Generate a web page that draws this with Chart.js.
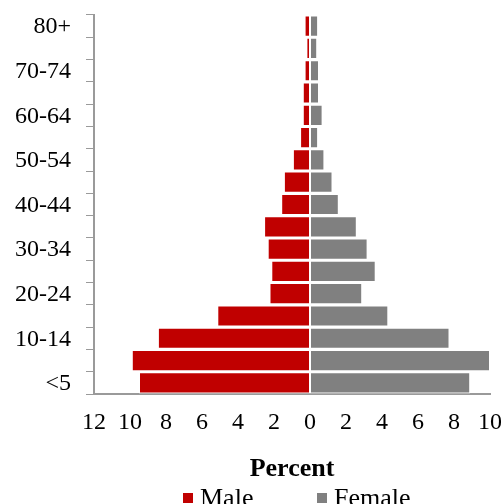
<!DOCTYPE html>
<html>
<head>
<meta charset="utf-8">
<script src="https://cdn.jsdelivr.net/npm/chart.js@4.4.1/dist/chart.umd.min.js"></script>
<style>
  html, body { margin: 0; padding: 0; background: #fff; width: 501px; height: 504px; overflow: hidden; }
  #wrap { position: relative; width: 503px; height: 504px; }
  #pyramid { position: absolute; left: 0; top: 0; }
  .lg-box { position: absolute; width: 10px; height: 10px; }
  .lg-text { position: absolute; font: 26px "Liberation Serif", serif; line-height: 26px; color: #000; white-space: nowrap; }
</style>
</head>
<body>
<div id="wrap">
  <canvas id="pyramid" width="503" height="504"></canvas>
  <div id="legend"></div>
</div>
<script>
const FONT = '"Liberation Serif", serif';
const AXIS_GREY = "#9a9a9a";

// age groups, bottom to top
const ageGroups = ["<5", "5-9", "10-14", "15-19", "20-24", "25-29", "30-34", "35-39", "40-44",
  "45-49", "50-54", "55-59", "60-64", "65-69", "70-74", "75-79", "80+"];
// only every other group gets a label on the axis
const yTickLabels = ["<5", "10-14", "20-24", "30-34", "40-44", "50-54", "60-64", "70-74", "80+"];

// percent of population (male drawn to the left, so negative)
const maleShare = [-9.5, -9.9, -8.45, -5.15, -2.25, -2.15, -2.35, -2.55, -1.6,
  -1.45, -0.95, -0.55, -0.4, -0.4, -0.3, -0.2, -0.3];
const femaleShare = [8.9, 10.0, 7.75, 4.35, 2.9, 3.65, 3.2, 2.6, 1.6,
  1.25, 0.8, 0.45, 0.7, 0.5, 0.5, 0.4, 0.45];

const seriesNames = ["Male", "Female"];
const seriesColors = ["#c00000", "#808080"];

const barStyle = {
  borderColor: "#ffffff",
  borderWidth: 1,
  borderSkipped: false,
  barPercentage: 0.95,
  categoryPercentage: 1.0,
};

const chart = new Chart(document.getElementById("pyramid"), {
  type: "bar",
  data: {
    labels: ageGroups,
    datasets: [
      { ...barStyle, label: seriesNames[0], data: maleShare, backgroundColor: seriesColors[0] },
      { ...barStyle, label: seriesNames[1], data: femaleShare, backgroundColor: seriesColors[1] },
    ],
  },
  options: {
    indexAxis: "y",
    responsive: false,
    animation: false,
    layout: { padding: { top: 15, bottom: 19.4, left: 0, right: 0 } },
    plugins: { legend: { display: false }, tooltip: { enabled: false } },
    scales: {
      x: {
        stacked: true,
        min: -12,
        max: 10,
        ticks: {
          stepSize: 2,
          autoSkip: false,
          maxRotation: 0,
          padding: 14.6,
          color: "#000",
          font: { family: FONT, size: 24 },
          callback: (v) => Math.abs(v),
        },
        grid: { display: false, drawTicks: false },
        border: { display: true, color: AXIS_GREY, width: 2 },
        title: {
          display: true,
          text: "Percent",
          color: "#000",
          font: { family: FONT, size: 26, weight: "bold" },
          padding: { top: 1.4, bottom: 0 },
        },
        afterFit: (scale) => {
          scale.paddingLeft = 0;
          scale.paddingRight = 13;
        },
      },
      y: {
        stacked: true,
        reverse: true,
        ticks: {
          autoSkip: false,
          padding: 15,
          labelOffset: 1,
          color: "#000",
          font: { family: FONT, size: 24 },
          callback: function (v) {
            const lbl = this.getLabelForValue(v);
            return yTickLabels.includes(lbl) ? lbl : "";
          },
        },
        grid: { drawOnChartArea: false, drawTicks: true, tickLength: 8, color: AXIS_GREY, lineWidth: 1 },
        border: { display: true, color: AXIS_GREY, width: 2 },
        afterFit: (scale) => {
          scale.width = 94;
          scale.paddingTop = 0;
          scale.paddingBottom = 0;
        },
      },
    },
  },
});

// legend below the axis title, as in the original
const legend = document.getElementById("legend");
const legendX = [183, 317];
chart.data.datasets.forEach((ds, i) => {
  const box = document.createElement("div");
  box.className = "lg-box";
  box.style.left = legendX[i] + "px";
  box.style.top = "493px";
  box.style.background = ds.backgroundColor;
  const txt = document.createElement("div");
  txt.className = "lg-text";
  txt.style.left = (legendX[i] + 17) + "px";
  txt.style.top = "485px";
  txt.textContent = ds.label;
  legend.appendChild(box);
  legend.appendChild(txt);
});
</script>
</body>
</html>
